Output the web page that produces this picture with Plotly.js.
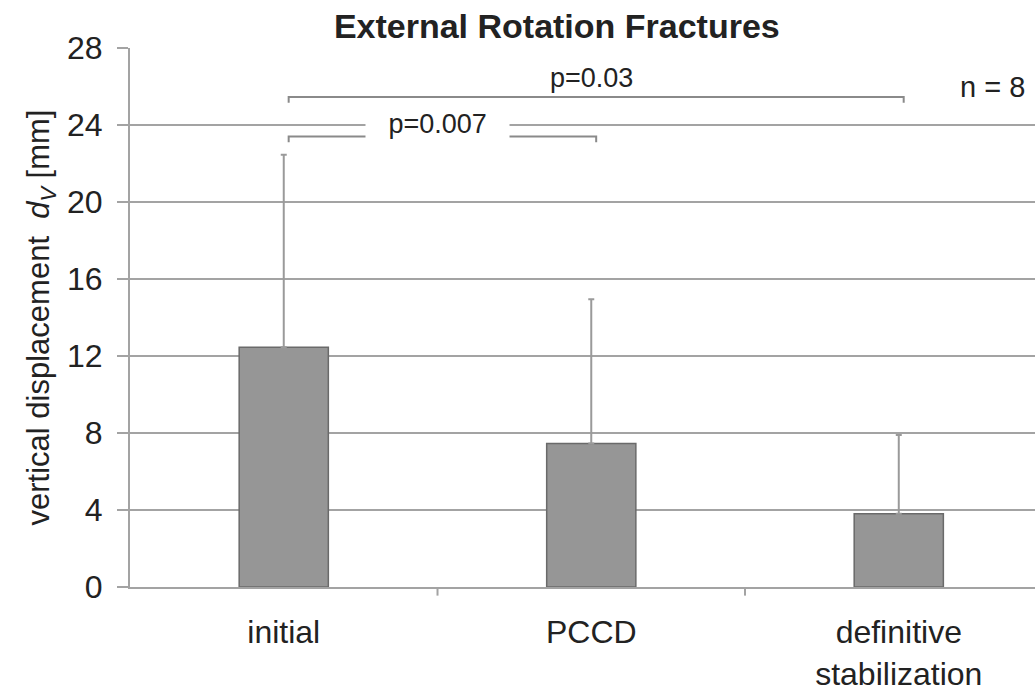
<!DOCTYPE html>
<html>
<head>
<meta charset="utf-8">
<script src="https://cdn.plot.ly/plotly-3.0.1.min.js"></script>
<style>html,body{margin:0;padding:0;background:#fff;}#chart{width:1035px;height:694px;}</style>
</head>
<body>
<div id="chart"></div>
<script>
// ---- data ----
var categories = ['initial', 'PCCD', 'definitive<br>stabilization'];
var meanValues = [12.45, 7.45, 3.8];
var sdValues = [10.0, 7.5, 4.1];
var yTickVals = [0, 4, 8, 12, 16, 20, 24, 28];
var bracketFrom = [0, 0];
var bracketTo = [1, 2];
var bracketLevel = [23.4, 25.45];
var bracketLabels = ['p=0.007', 'p=0.03'];
var labelX = [0.5, 1];
var labelY = [24.05, 26.45];
var sampleNote = 'n = 8';

var FONT = 'Liberation Sans, Arial, sans-serif';
var GRID = '#a3a3a3';
var TXT = '#222222';

var trace = {
  type: 'bar',
  x: [0, 1, 2],
  y: meanValues,
  width: 0.29,
  marker: {color: '#969696', line: {color: '#6a6a6a', width: 1.5}},
  error_y: {type: 'data', array: sdValues, arrayminus: sdValues.map(function(){return 0;}),
            symmetric: false, visible: true, color: '#9a9a9a', thickness: 2, width: 3},
  hoverinfo: 'skip'
};

var shapes = [];
var annotations = [];
var drop = 0.3, off = 0.016;
for (var i = 0; i < bracketFrom.length; i++) {
  var x0 = bracketFrom[i] + off, x1 = bracketTo[i] + off, yb = bracketLevel[i];
  shapes.push({type: 'path', xref: 'x', yref: 'y',
    path: 'M ' + x0 + ',' + (yb - drop) + ' L ' + x0 + ',' + yb + ' L ' + x1 + ',' + yb + ' L ' + x1 + ',' + (yb - drop),
    line: {color: '#8a8a8a', width: 2}});
  annotations.push({xref: 'x', yref: 'y', x: labelX[i], y: labelY[i],
    text: (i === 0 ? '\u00a0\u00a0\u00a0' + bracketLabels[i] + '\u00a0\u00a0\u00a0' : bracketLabels[i]),
    showarrow: false, bgcolor: i === 0 ? '#ffffff' : 'rgba(0,0,0,0)', borderpad: 0,
    font: {family: FONT, size: 27, color: TXT}, xanchor: 'center', yanchor: 'middle'});
}
annotations.push({xref: 'paper', yref: 'paper', x: 0.953, y: 0.927, text: sampleNote, showarrow: false,
  font: {family: FONT, size: 29, color: TXT}, xanchor: 'center', yanchor: 'middle'});

var layout = {
  width: 1035, height: 694,
  margin: {l: 130, r: 0, t: 48, b: 107},
  paper_bgcolor: '#ffffff', plot_bgcolor: '#ffffff',
  showlegend: false,
  title: {text: '<b>External Rotation Fractures</b>', x: 0.538, xanchor: 'center', y: 0.963, yanchor: 'middle',
    font: {family: FONT, size: 34, color: TXT}},
  xaxis: {
    type: 'linear', range: [-0.5, 2.443], tickvals: [0, 1, 2], ticktext: categories,
    showgrid: false, zeroline: false, showline: true, linecolor: GRID, linewidth: 2,
    ticks: '', tickfont: {family: FONT, size: 32, color: TXT}, ticklabelstandoff: 16
  },
  yaxis: {
    range: [0, 28], tickvals: yTickVals, ticktext: yTickVals.map(String),
    showgrid: true, gridcolor: GRID, gridwidth: 2, zeroline: false,
    showline: true, linecolor: GRID, linewidth: 2,
    ticks: 'outside', ticklen: 11, tickwidth: 2, tickcolor: GRID,
    tickfont: {family: FONT, size: 32, color: TXT}, ticklabelstandoff: 8,
    title: {text: 'vertical displacement\u00a0 <i>d<sub>V</sub></i> [mm]', standoff: 8,
      font: {family: FONT, size: 31, color: TXT}}
  },
  shapes: shapes.concat([
    {type: 'line', xref: 'x', yref: 'paper', x0: 0.5, x1: 0.5, y0: 0, y1: -0.016, line: {color: GRID, width: 2}},
    {type: 'line', xref: 'x', yref: 'paper', x0: 1.5, x1: 1.5, y0: 0, y1: -0.016, line: {color: GRID, width: 2}}
  ]),
  annotations: annotations,
  bargap: 0.7
};

Plotly.newPlot('chart', [trace], layout, {displayModeBar: false, staticPlot: true});
</script>
</body>
</html>
